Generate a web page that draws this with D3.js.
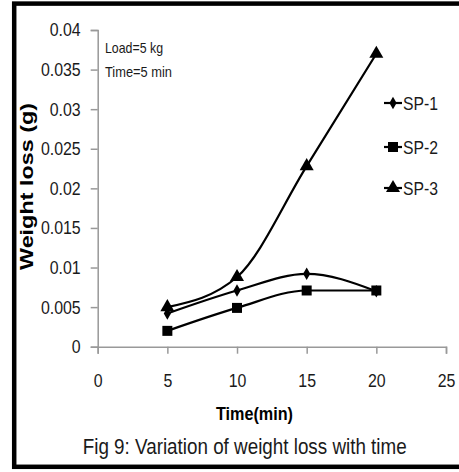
<!DOCTYPE html>
<html><head><meta charset="utf-8">
<script src="https://cdn.jsdelivr.net/npm/d3@7"></script>
<style>body{margin:0;background:#fff}svg{display:block}</style>
</head><body>
<svg id="c" width="459" height="472"></svg>
<script>
const times = [5, 10, 15, 20];
const sp1 = [0.0042, 0.0071, 0.0092, 0.007];
const sp2 = [0.002, 0.0049, 0.0071, 0.0071];
const sp3 = [0.005, 0.0088, 0.0228, 0.037];
const seriesNames = ["SP-1", "SP-2", "SP-3"];
const xTicks = [0, 5, 10, 15, 20, 25];
const yTicks = [0, 0.005, 0.01, 0.015, 0.02, 0.025, 0.03, 0.035, 0.04];
const yTickLabels = ["0", "0.005", "0.01", "0.015", "0.02", "0.025", "0.03", "0.035", "0.04"];
const notes = ["Load=5 kg", "Time=5 min"];
const xTitle = "Time(min)";
const yTitle = "Weight loss (g)";
const caption = "Fig 9: Variation of weight loss with time";

const F = "'Liberation Sans',Arial,sans-serif";
const svg = d3.select("#c");
const x = d3.scaleLinear().domain([0, 25]).range([97.7, 446]);
const y = d3.scaleLinear().domain([0, 0.04]).range([346.7, 30]);

// squeeze text horizontally to mimic the narrow original typeface
function narrow(sel, ratio) {
  sel.each(function () {
    const w = this.getComputedTextLength();
    d3.select(this).attr("textLength", w * ratio).attr("lengthAdjust", "spacingAndGlyphs");
  });
}

// border
svg.append("rect").attr("x", 14.2).attr("y", 3.6).attr("width", 470).attr("height", 463.2)
  .attr("fill", "none").attr("stroke", "#000").attr("stroke-width", 4.5);

const axCol = "#999";
const gx = svg.append("g").attr("transform", `translate(0,${y(0)})`)
  .call(d3.axisBottom(x).tickValues(xTicks).tickSize(7).tickPadding(20).tickFormat(d3.format("d")));
const gy = svg.append("g").attr("transform", `translate(${x(0)},0)`)
  .call(d3.axisLeft(y).tickValues(yTicks).tickSize(7).tickPadding(10).tickFormat((d, i) => yTickLabels[i]));
[gx, gy].forEach(g => {
  g.select(".domain").attr("stroke", axCol).attr("stroke-width", 1.5);
  g.selectAll(".tick line").attr("stroke", axCol).attr("stroke-width", 1.5);
  g.selectAll("text").attr("font-family", F).attr("font-size", 18.5).attr("fill", "#1a1a1a");
  narrow(g.selectAll("text"), 0.86);
});

const data = [sp1, sp2, sp3];
const line = d3.line().x((d, i) => x(times[i])).y(d => y(d)).curve(d3.curveMonotoneX);
data.forEach(s => {
  svg.append("path").attr("d", line(s)).attr("fill", "none").attr("stroke", "#000").attr("stroke-width", 2.2);
});

const shapes = [d3.symbolDiamond, d3.symbolSquare, d3.symbolTriangle];
const sizes = [45, 100, 85];
function marker(g, k, cx, cy) {
  g.append("path").attr("d", d3.symbol().type(shapes[k]).size(sizes[k])())
    .attr("transform", `translate(${cx},${cy})`).attr("fill", "#000");
}
data.forEach((s, k) => s.forEach((v, i) => marker(svg, k, x(times[i]), y(v))));

// legend
const legY = [103, 147, 188];
seriesNames.forEach((n, k) => {
  svg.append("line").attr("x1", 384).attr("x2", 402).attr("y1", legY[k]).attr("y2", legY[k])
    .attr("stroke", "#000").attr("stroke-width", 2.2);
  marker(svg, k, 393, legY[k]);
  svg.append("text").attr("x", 403).attr("y", legY[k]).attr("dy", "0.35em")
    .attr("font-family", F).attr("font-size", 19).attr("fill", "#1a1a1a").text(n)
    .attr("textLength", 35).attr("lengthAdjust", "spacingAndGlyphs");
});

// notes
const noteW = [58, 67];
notes.forEach((t, i) => svg.append("text").attr("x", 105).attr("y", 48 + i * 24).attr("dy", "0.35em")
  .attr("font-family", F).attr("font-size", 15).attr("fill", "#1a1a1a").text(t)
  .attr("textLength", noteW[i]).attr("lengthAdjust", "spacingAndGlyphs"));

// titles
svg.append("text").attr("x", 254.5).attr("y", 413).attr("dy", "0.35em").attr("text-anchor", "middle")
  .attr("font-family", F).attr("font-weight", "bold").attr("font-size", 19).text(xTitle)
  .attr("textLength", 77).attr("lengthAdjust", "spacingAndGlyphs");
svg.append("text").attr("transform", "translate(27,186.5) rotate(-90)").attr("dy", "0.35em").attr("text-anchor", "middle")
  .attr("font-family", F).attr("font-weight", "bold").attr("font-size", 18).text(yTitle)
  .attr("textLength", 167).attr("lengthAdjust", "spacingAndGlyphs");
const cap = svg.append("text").attr("transform", "translate(244.7,446)").attr("dy", "0.35em").attr("text-anchor", "middle")
  .attr("font-family", F).attr("font-size", 22).attr("fill", "#1a1a1a").text(caption);
const cw = cap.node().getComputedTextLength();
cap.attr("transform", `translate(244.7,446) scale(${324 / cw},1)`);
</script>
</body></html>
